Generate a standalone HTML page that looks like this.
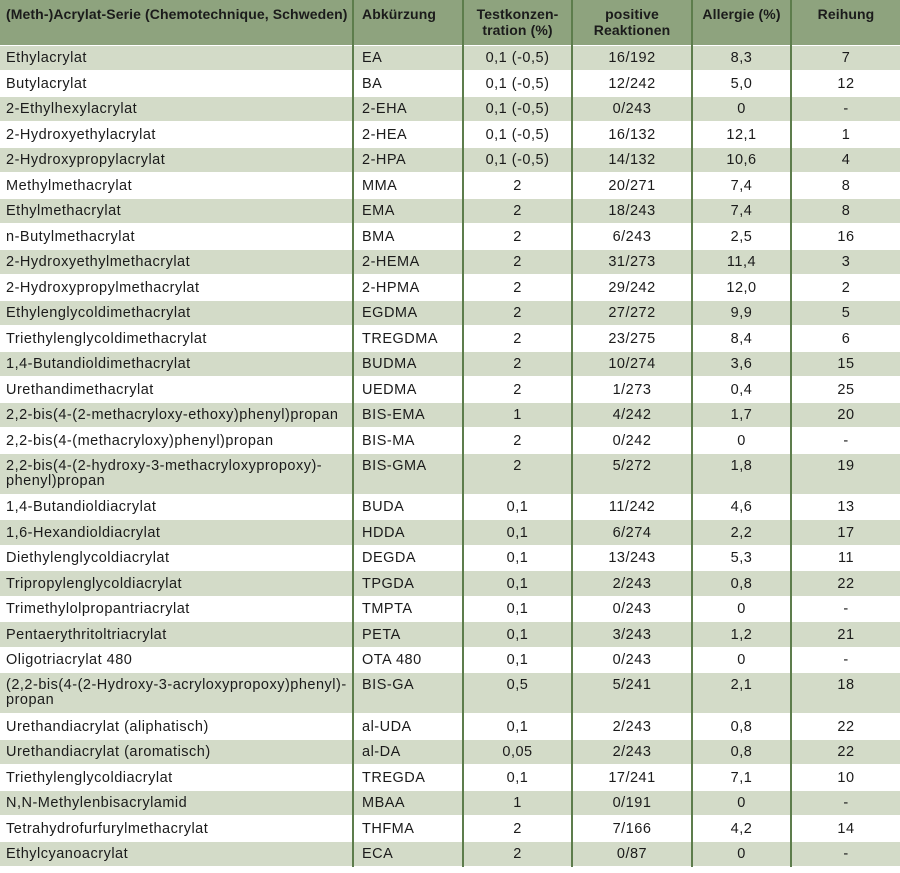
<!DOCTYPE html>
<html><head><meta charset="utf-8"><style>
body{margin:0;width:900px;height:873px;background:#fff;overflow:hidden}
table{border-collapse:collapse;table-layout:fixed;width:900px;font-family:"Liberation Sans",sans-serif;font-size:14.5px;letter-spacing:0.5px;color:#1b1b1b}
td,th{padding:0;border-left:2px solid #5d7d4c;border-bottom:1px solid #fff;white-space:nowrap;overflow:hidden;line-height:15px}
td:first-child,th:first-child{border-left:none;padding-left:6px;text-align:left}
td:nth-child(2),th:nth-child(2){padding-left:8px;text-align:left}
td{text-align:center;height:22.5px;padding-top:2px}
th{background:#8ea37e;height:45px;vertical-align:top;padding-top:6px;font-weight:bold;text-align:center;box-sizing:border-box;font-size:14px;letter-spacing:0.1px;line-height:16px}
tr:nth-child(even) td{background:#d3dbc8}
tr.d td{height:35px;vertical-align:top;padding-top:5px}
</style></head><body>
<table>
<colgroup><col style="width:353px"><col style="width:110px"><col style="width:109px"><col style="width:120px"><col style="width:99px"><col style="width:109px"></colgroup>
<tr><th>(Meth-)Acrylat-Serie (Chemotechnique, Schweden)</th><th>Abkürzung</th><th>Testkonzen-<br>tration (%)</th><th>positive<br>Reaktionen</th><th>Allergie (%)</th><th>Reihung</th></tr>
<tr><td>Ethylacrylat</td><td>EA</td><td>0,1 (-0,5)</td><td>16/192</td><td>8,3</td><td>7</td></tr>
<tr><td>Butylacrylat</td><td>BA</td><td>0,1 (-0,5)</td><td>12/242</td><td>5,0</td><td>12</td></tr>
<tr><td>2-Ethylhexylacrylat</td><td>2-EHA</td><td>0,1 (-0,5)</td><td>0/243</td><td>0</td><td>-</td></tr>
<tr><td>2-Hydroxyethylacrylat</td><td>2-HEA</td><td>0,1 (-0,5)</td><td>16/132</td><td>12,1</td><td>1</td></tr>
<tr><td>2-Hydroxypropylacrylat</td><td>2-HPA</td><td>0,1 (-0,5)</td><td>14/132</td><td>10,6</td><td>4</td></tr>
<tr><td>Methylmethacrylat</td><td>MMA</td><td>2</td><td>20/271</td><td>7,4</td><td>8</td></tr>
<tr><td>Ethylmethacrylat</td><td>EMA</td><td>2</td><td>18/243</td><td>7,4</td><td>8</td></tr>
<tr><td>n-Butylmethacrylat</td><td>BMA</td><td>2</td><td>6/243</td><td>2,5</td><td>16</td></tr>
<tr><td>2-Hydroxyethylmethacrylat</td><td>2-HEMA</td><td>2</td><td>31/273</td><td>11,4</td><td>3</td></tr>
<tr><td>2-Hydroxypropylmethacrylat</td><td>2-HPMA</td><td>2</td><td>29/242</td><td>12,0</td><td>2</td></tr>
<tr><td>Ethylenglycoldimethacrylat</td><td>EGDMA</td><td>2</td><td>27/272</td><td>9,9</td><td>5</td></tr>
<tr><td>Triethylenglycoldimethacrylat</td><td>TREGDMA</td><td>2</td><td>23/275</td><td>8,4</td><td>6</td></tr>
<tr><td>1,4-Butandioldimethacrylat</td><td>BUDMA</td><td>2</td><td>10/274</td><td>3,6</td><td>15</td></tr>
<tr><td>Urethandimethacrylat</td><td>UEDMA</td><td>2</td><td>1/273</td><td>0,4</td><td>25</td></tr>
<tr><td>2,2-bis(4-(2-methacryloxy-ethoxy)phenyl)propan</td><td>BIS-EMA</td><td>1</td><td>4/242</td><td>1,7</td><td>20</td></tr>
<tr><td>2,2-bis(4-(methacryloxy)phenyl)propan</td><td>BIS-MA</td><td>2</td><td>0/242</td><td>0</td><td>-</td></tr>
<tr class="d"><td>2,2-bis(4-(2-hydroxy-3-methacryloxypropoxy)-<br>phenyl)propan</td><td>BIS-GMA</td><td>2</td><td>5/272</td><td>1,8</td><td>19</td></tr>
<tr><td>1,4-Butandioldiacrylat</td><td>BUDA</td><td>0,1</td><td>11/242</td><td>4,6</td><td>13</td></tr>
<tr><td>1,6-Hexandioldiacrylat</td><td>HDDA</td><td>0,1</td><td>6/274</td><td>2,2</td><td>17</td></tr>
<tr><td>Diethylenglycoldiacrylat</td><td>DEGDA</td><td>0,1</td><td>13/243</td><td>5,3</td><td>11</td></tr>
<tr><td>Tripropylenglycoldiacrylat</td><td>TPGDA</td><td>0,1</td><td>2/243</td><td>0,8</td><td>22</td></tr>
<tr><td>Trimethylolpropantriacrylat</td><td>TMPTA</td><td>0,1</td><td>0/243</td><td>0</td><td>-</td></tr>
<tr><td>Pentaerythritoltriacrylat</td><td>PETA</td><td>0,1</td><td>3/243</td><td>1,2</td><td>21</td></tr>
<tr><td>Oligotriacrylat 480</td><td>OTA 480</td><td>0,1</td><td>0/243</td><td>0</td><td>-</td></tr>
<tr class="d"><td>(2,2-bis(4-(2-Hydroxy-3-acryloxypropoxy)phenyl)-<br>propan</td><td>BIS-GA</td><td>0,5</td><td>5/241</td><td>2,1</td><td>18</td></tr>
<tr><td>Urethandiacrylat (aliphatisch)</td><td>al-UDA</td><td>0,1</td><td>2/243</td><td>0,8</td><td>22</td></tr>
<tr><td>Urethandiacrylat (aromatisch)</td><td>al-DA</td><td>0,05</td><td>2/243</td><td>0,8</td><td>22</td></tr>
<tr><td>Triethylenglycoldiacrylat</td><td>TREGDA</td><td>0,1</td><td>17/241</td><td>7,1</td><td>10</td></tr>
<tr><td>N,N-Methylenbisacrylamid</td><td>MBAA</td><td>1</td><td>0/191</td><td>0</td><td>-</td></tr>
<tr><td>Tetrahydrofurfurylmethacrylat</td><td>THFMA</td><td>2</td><td>7/166</td><td>4,2</td><td>14</td></tr>
<tr><td>Ethylcyanoacrylat</td><td>ECA</td><td>2</td><td>0/87</td><td>0</td><td>-</td></tr>
</table>
</body></html>
